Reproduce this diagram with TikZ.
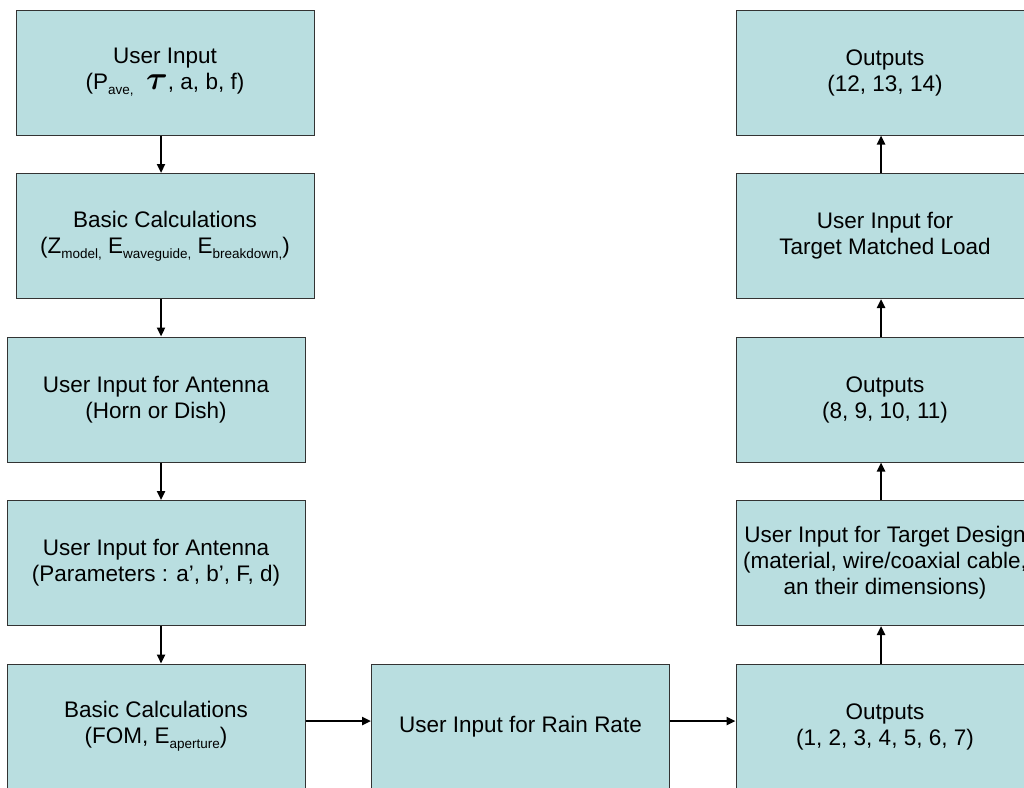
\documentclass[tikz,border=0pt]{standalone}
\usepackage{fontspec}
\setmainfont{Liberation Sans}
\usepackage{amsmath}
\usetikzlibrary{arrows.meta}
\definecolor{boxcyan}{RGB}{185,222,224}
\tikzset{>={Triangle[length=9pt,width=8pt]}}
\tikzset{blk/.style={draw=black!80, line width=1pt, fill=boxcyan, minimum width=298pt, minimum height=125pt,
    inner xsep=0pt, align=center, font=\fontsize{22.5}{26}\selectfont},
    flow/.style={->, line width=2.5pt}}
\newcommand{\low}[1]{\raisebox{-5pt}{\fontsize{13.5}{13}\selectfont #1}}

\begin{document}
\begin{tikzpicture}[x=1pt, y=-1pt]
    \useasboundingbox (0,0) rectangle (1024,787);
    \clip (0,0) rectangle (1024,787);
    % left column
    \node[blk] (userin) at (165,72.5) {User Input\\(P\low{ave,}\ \ \scalebox{1.6}{$\boldsymbol{\tau}$}, a, b, f)};
    \node[blk] (basic) at (165,236) {Basic Calculations\\(Z\low{model,} E\low{waveguide,} E\low{breakdown,})};
    \node[blk] (antenna) at (156,399.5) {User Input for Antenna\\(Horn or Dish)};
    \node[blk] (params) at (156,563) {User Input for Antenna\\(Parameters : a’, b’, F, d)};
    \node[blk] (fom) at (156,726.5) {Basic Calculations\\(FOM, E\low{aperture})};
    % middle
    \node[blk] (rain) at (520.5,726.5) {User Input for Rain Rate};
    % right column
    \node[blk] (out7) at (885,726.5) {Outputs\\(1, 2, 3, 4, 5, 6, 7)};
    \node[blk] (design) at (885,563) {User Input for Target Design\\(material, wire/coaxial cable,\\an their dimensions)};
    \node[blk] (out11) at (885,399.5) {Outputs\\(8, 9, 10, 11)};
    \node[blk] (matched) at (885,236) {User Input for\\Target Matched Load};
    \node[blk] (out14) at (885,72.5) {Outputs\\(12, 13, 14)};
    % connectors
    \coordinate (lx) at (161,0);
    \coordinate (rx) at (881,0);
    \coordinate (hy) at (0,721);
    \draw[flow] (userin.south -| lx) -- (basic.north -| lx);
    \draw[flow] (basic.south -| lx) -- (antenna.north -| lx);
    \draw[flow] (antenna.south -| lx) -- (params.north -| lx);
    \draw[flow] (params.south -| lx) -- (fom.north -| lx);
    \draw[flow] (fom.east |- hy) -- (rain.west |- hy);
    \draw[flow] (rain.east |- hy) -- (out7.west |- hy);
    \draw[flow] (out7.north -| rx) -- (design.south -| rx);
    \draw[flow] (design.north -| rx) -- (out11.south -| rx);
    \draw[flow] (out11.north -| rx) -- (matched.south -| rx);
    \draw[flow] (matched.north -| rx) -- (out14.south -| rx);
\end{tikzpicture}
\end{document}
